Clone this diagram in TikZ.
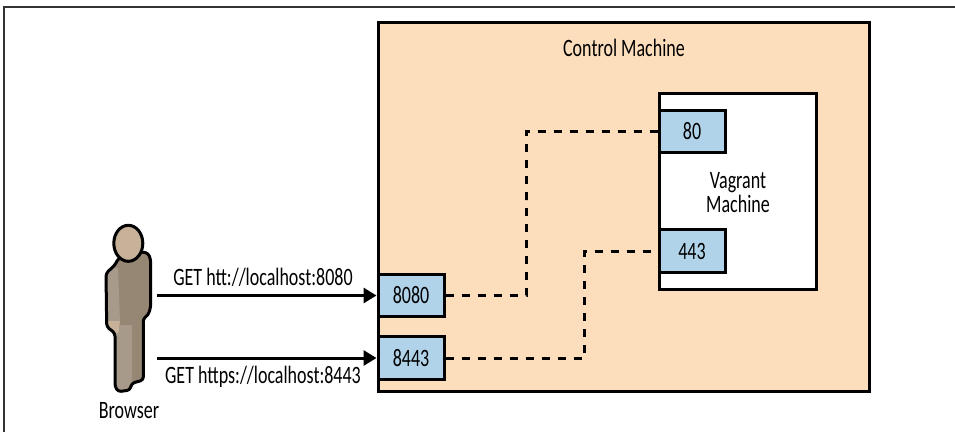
\documentclass[tikz,border=0pt]{standalone}
\usepackage{fontspec}
\setmainfont[FakeStretch=0.72]{Carlito}
\usetikzlibrary{arrows.meta}

\definecolor{machinefill}{HTML}{FDDEBC}
\definecolor{portfill}{HTML}{B0D3EA}
\definecolor{skin}{HTML}{C7B299}
\definecolor{clothdark}{HTML}{968674}
\definecolor{clothlight}{HTML}{A89A8B}

\tikzset{
	textsize/.style = {font = \fontsize{25}{24}\selectfont},
	machine/.style = {draw, line width = 3pt, outer sep = 0pt, anchor = north west},
	port/.style = {draw, textsize, line width = 3pt, fill = portfill, minimum width = 66pt, minimum height = 42.5pt, inner sep = 0pt},
	label/.style = {textsize, inner sep = 0pt},
	request/.style = {line width = 3pt, -{Triangle[length = 13pt, width = 15pt]}},
	forward/.style = {line width = 3pt, dash pattern = on 8pt off 8pt}
}

\begin{document}
\begin{tikzpicture}[x = 1pt, y = -1pt]
	\useasboundingbox (0, 0) rectangle (955, 432);

	% Rahmen:
	\draw [line width = 2pt, color = black!80] (955, 7) -- (3.5, 7) -- (3.5, 432);

	% Control Machine:
	\node [machine, fill = machinefill, minimum width = 491pt, minimum height = 368.5pt] (control) at (378, 22.5) {};
	\node [label] (controllabel) at (624, 48) {Control Machine};

	% Vagrant Machine:
	\node [machine, fill = white, minimum width = 157pt, minimum height = 195.5pt] (vagrant) at (659, 93.5) {};
	\node [label, align = center] (vagrantlabel) at (738, 193) {Vagrant\\[0pt]Machine};

	% Ports:
	\node [port] (port80) at (692, 131.5) {80};
	\node [port] (port443) at (692, 251) {443};
	\node [port] (port8080) at (411, 295.5) {8080};
	\node [port] (port8443) at (411, 358) {8443};

	\coordinate (bend80) at (526, 200);
	\coordinate (bend443) at (584.5, 300);
	\draw [forward] (port8080.east) -| (bend80) |- (port80.west);
	\draw [forward] (port8443.east) -| (bend443) |- (port443.west);

	% Browser:
	\begin{scope}[line width = 3pt, line join = round]
		\def\bodypath{(141.7, 251.7) -- (148.3, 253.3) -- (150.7, 260) -- (150.7, 306.7) -- (148.3, 315) -- (143.3, 318.3) -- (143.3, 380) -- (131.7, 383.3) -- (130, 390) -- (118.3, 391.7) -- (115, 386.7) -- (115, 333.3) -- (106.7, 326.7) -- (106, 273.3) -- (115, 265) -- (118.3, 258.3) -- cycle}
		\fill [clothdark, rounded corners = 3pt] \bodypath;
		\begin{scope}
			\clip [rounded corners = 3pt] \bodypath;
			\fill [clothlight] (100, 265) -- (118, 268) -- (120, 322) -- (100, 322) -- cycle;
			\fill [clothlight] (112, 325) rectangle (132, 395);
			\fill [skin] (104, 321) -- (120, 321) -- (118.5, 332) -- (114, 336) -- (104, 330) -- cycle;
		\end{scope}
		\draw [rounded corners = 3pt] \bodypath;
		\draw [fill = skin] (128.3, 243.3) ellipse [x radius = 14.5, y radius = 18];
	\end{scope}
	\node [label] (browser) at (129, 411) {Browser};

	% Anfragen:
	\coordinate (from8080) at (157, 295.5);
	\coordinate (from8443) at (157, 358);
	\draw [request] (from8080) -- (port8080.west);
	\draw [request] (from8443) -- (port8443.west);
	\node [label] (get8080) at (263, 277) {GET htt://localhost:8080};
	\node [label] (get8443) at (263, 377) {GET https://localhost:8443};
\end{tikzpicture}
\end{document}
